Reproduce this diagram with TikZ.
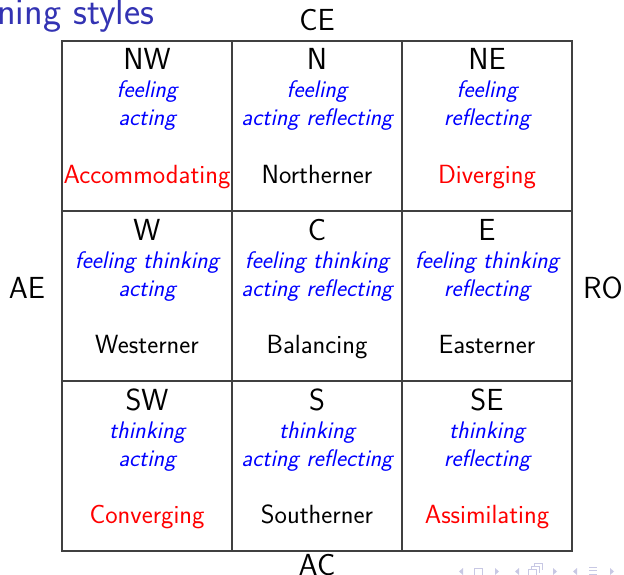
\documentclass[tikz,border=0pt]{standalone}
\usetikzlibrary{positioning}
\definecolor{titleblue}{RGB}{51,51,179}
\definecolor{navgray}{RGB}{200,200,228}
\newcommand{\bigsz}{\fontsize{30.5}{36}\selectfont}
\newcommand{\txtsz}{\fontsize{26.3}{31}\selectfont}
\newcommand{\modesz}{\fontsize{24}{28}\selectfont}
\begin{document}
\begin{tikzpicture}[x=1pt,y=-1pt,
  font=\sffamily\txtsz,
  grid/.style={draw=black!75, line width=1.2pt},
  dir/.style={font=\sffamily\bigsz, anchor=base},
  mode/.style={font=\sffamily\itshape\modesz, text=blue, anchor=base},
  styleA/.style={font=\sffamily\txtsz, text=red, anchor=base},
  styleB/.style={font=\sffamily\txtsz, text=black, anchor=base},
  axis/.style={font=\sffamily\bigsz},
  navtri/.style={fill=navgray, draw=none}
]
\useasboundingbox (0,0) rectangle (624,575);

% frame title fragment
\node[anchor=base west, inner sep=0, text=titleblue, font=\sffamily\fontsize{38.5}{44}\selectfont] (title) at (-3,24.5) {ning styles};

% 3x3 grid
\draw[grid] (62,41) rectangle (572,551);
\draw[grid] (232,41) -- (232,551) (402,41) -- (402,551);
\draw[grid] (62,211) -- (572,211) (62,381) -- (572,381);

% axis labels
\node[axis] (ce) at (317,20) {CE};
\node[axis] (ac) at (317,565) {AC};
\node[axis] (ae) at (27,288) {AE};
\node[axis] (ro) at (603,288) {RO};

% cell contents: x-centre, top of cell, direction, modes, style name
\foreach \cx/\ty/\d/\la/\lb/\nm/\st in {
  147/41/NW/feeling/acting/Accommodating/styleA,
  317/41/N/feeling/acting reflecting/Northerner/styleB,
  487/41/NE/feeling/reflecting/Diverging/styleA,
  147/211/W/feeling thinking/acting/Westerner/styleB,
  317/211/C/feeling thinking/acting reflecting/Balancing/styleB,
  487/211/E/feeling thinking/reflecting/Easterner/styleB,
  147/381/SW/thinking/acting/Converging/styleA,
  317/381/S/thinking/acting reflecting/Southerner/styleB,
  487/381/SE/thinking/reflecting/Assimilating/styleA}
{
  \node[dir] (d\d) at (\cx,\ty+29) {\d};
  \node[mode] (ma\d) at (\cx,\ty+57) {\la};
  \node[mode] (mb\d) at (\cx,\ty+85) {\lb};
  \node[\st] (s\d) at (\cx,\ty+142) {\nm};
}

% navigation symbols
\begin{scope}[navgray]
  \fill (463,568) -- (463,575) -- (459,571.5) -- cycle;
  \draw[line width=1pt] (474,575) -- (474,568) -- (482,568) -- (482,575);
  \fill (495,568) -- (495,575) -- (499,571.5) -- cycle;
  \fill (519,568) -- (519,575) -- (515,571.5) -- cycle;
  \draw[line width=0.8pt] (528,575) -- (528,569) -- (536,569) -- (536,575)
        (531,569) -- (531,566) -- (539,566) -- (539,573)
        (534,566) -- (534,563) -- (542,563) -- (542,570);
  \fill (553,568) -- (553,575) -- (557,571.5) -- cycle;
  \fill (577,568) -- (577,575) -- (573,571.5) -- cycle;
  \draw[line width=1pt] (589,567) -- (597,567) (589,570.5) -- (597,570.5) (589,574) -- (597,574);
  \fill (610,568) -- (610,575) -- (614,571.5) -- cycle;
\end{scope}
\end{tikzpicture}
\end{document}
